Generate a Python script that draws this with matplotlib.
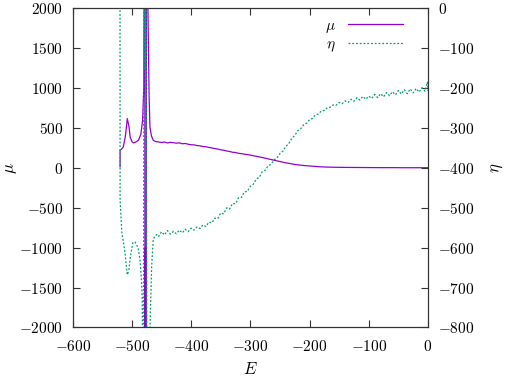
import matplotlib
matplotlib.use("Agg")
import matplotlib.pyplot as plt
from matplotlib.ticker import FuncFormatter

plt.rcParams['mathtext.fontset'] = 'cm'
plt.rcParams['font.family'] = 'serif'
plt.rcParams['font.serif'] = ['cmr10', 'DejaVu Serif']
plt.rcParams['axes.unicode_minus'] = False

# mu(E)
e_mu = [-520, -520, -517, -514.6, -511, -507.8, -505, -503, -500, -497.7,
        -493, -489, -485, -482, -480, -479, -478.5, -477.8, -477.2, -476.5,
        -475, -473, -471, -469.6, -467, -464, -460, -455, -450, -445,
        -440, -435, -430, -425, -420, -415, -410, -405, -400, -395,
        -390, -385, -380, -375, -370, -365, -360, -355, -350, -345,
        -340, -335, -330, -325, -320, -315, -310, -305, -300, -290,
        -280, -270, -260, -250, -240, -230, -220, -210, -200, -190,
        -180, -170, -160, -150, -140, -120, -100, -80, -60, -40, -20, -1]
mu = [13, 220, 240, 263, 400, 617, 520, 388, 330, 313,
      325, 346, 420, 596, 1000, 3000, 8000, -8000, -1000, -8000,
      8000, 2000, 900, 513, 400, 346, 330, 325, 318, 324,
      313, 320, 316, 309, 314, 302, 306, 296, 290, 288,
      280, 276, 268, 265, 256, 250, 242, 236, 226, 221,
      212, 205, 196, 192, 183, 178, 172, 166, 160, 145,
      130, 113, 96, 80, 63, 50, 38, 30, 24, 18,
      13, 10, 8, 7, 6, 5, 4, 3, 3, 2, 2, 2]

# eta(E)
e_eta = [-520.5, -520, -517, -514, -511.7, -507.8, -505, -503.3, -500, -498.7,
         -495, -492, -489, -486.4, -484, -482.5, -481, -479.5, -477.8, -476.5,
         -474, -471, -469.5, -466.7, -464, -461, -458,
         -455, -450, -445, -440, -435, -430, -425, -420, -415, -410,
         -405, -400, -395, -390, -385, -380, -375, -370, -365, -360,
         -355, -350, -345, -340, -335, -330, -325, -320, -315, -310,
         -305, -300, -295, -290, -285, -280, -275, -270, -265, -260,
         -255, -250, -245, -240, -235, -230, -225, -220, -215, -210,
         -205, -200, -195, -190, -185, -180, -175, -170, -165, -160,
         -155, -150, -145, -140, -135, -130, -125, -120, -115, -110,
         -105, -100, -95, -90, -85, -80, -75, -70, -65, -60,
         -55, -50, -45, -40, -35, -30, -25, -20, -15, -10, -5, -1, 0]
eta = [1500, -480, -563, -590, -613, -668, -655, -630, -600, -588,
       -585, -592, -605, -630, -680, -730, -1500, 500, -155, 500,
       -1500, -1500, -800, -647, -580, -570, -567,
       -572, -560, -568, -557, -566, -559, -565, -556, -563, -554,
       -560, -551, -556, -548, -552, -543, -547, -536, -538, -526,
       -527, -513, -515, -500, -503, -489, -490, -475, -474, -460,
       -459, -446, -441, -428, -424, -410, -406, -395, -391, -380,
       -375, -364, -358, -346, -339, -326, -319, -307, -302, -292,
       -288, -279, -276, -267, -265, -257, -256, -249, -248, -242,
       -243, -236, -239, -232, -236, -228, -233, -224, -230, -221,
       -228, -220, -226, -216, -224, -214, -222, -211, -219, -209,
       -217, -206, -215, -204, -214, -202, -212, -201, -210, -199, -208, -185, -207]

fig = plt.figure(figsize=(5.05, 3.76), dpi=100)
ax1 = fig.add_axes([0.144, 0.129, 0.7035, 0.849])
ax2 = ax1.twinx()

purple = '#9400D3'
green = '#009E73'

l1, = ax1.plot(e_mu, mu, color=purple, lw=0.9, label=r'$\mu$')
l2, = ax2.plot(e_eta, eta, color=green, lw=0.9, linestyle=(0, (1.5, 1.5)),
               label=r'$\eta$')

ax1.set_xlim(-600, 0)
ax1.set_ylim(-2000, 2000)
ax2.set_ylim(-800, 0)
ax1.set_xticks(range(-600, 1, 100))
ax1.set_yticks(range(-2000, 2001, 500))
ax2.set_yticks(range(-800, 1, 100))

fmt = FuncFormatter(lambda v, p: r'$%d$' % v)
ax1.xaxis.set_major_formatter(fmt)
ax1.yaxis.set_major_formatter(fmt)
ax2.yaxis.set_major_formatter(fmt)

ax1.tick_params(axis='x', direction='in', top=True, length=5, width=0.8,
                pad=8, labelsize=11, color='#333333')
ax1.tick_params(axis='y', direction='in', left=True, right=False, length=5,
                width=0.8, pad=7, labelsize=11, color='#333333')
ax2.tick_params(axis='y', direction='in', left=False, right=True, length=5,
                width=0.8, pad=7, labelsize=11, color='#333333')

for ax in (ax1, ax2):
    for s in ax.spines.values():
        s.set_linewidth(0.8)
        s.set_color('#333333')

ax1.set_xlabel(r'$E$', fontsize=12)
ax1.set_ylabel(r'$\mu$', fontsize=12)
ax2.set_ylabel(r'$\eta$', fontsize=12, rotation=90)
ax1.xaxis.set_label_coords(0.5, -0.13)
ax1.xaxis.label.set_va('center')
ax1.yaxis.set_label_coords(-0.172, 0.5)
ax1.yaxis.label.set_va('center')
ax2.yaxis.set_label_coords(1.194, 0.5)
ax2.yaxis.label.set_va('center')

leg = ax2.legend([l1, l2], [r'$\mu$', r'$\eta$'], loc='upper right',
                 frameon=False, markerfirst=False, handlelength=3.6,
                 fontsize=11, borderaxespad=0.3, labelspacing=0.2,
                 bbox_to_anchor=(0.96, 1.0))

fig.savefig('out.png', dpi=100)
